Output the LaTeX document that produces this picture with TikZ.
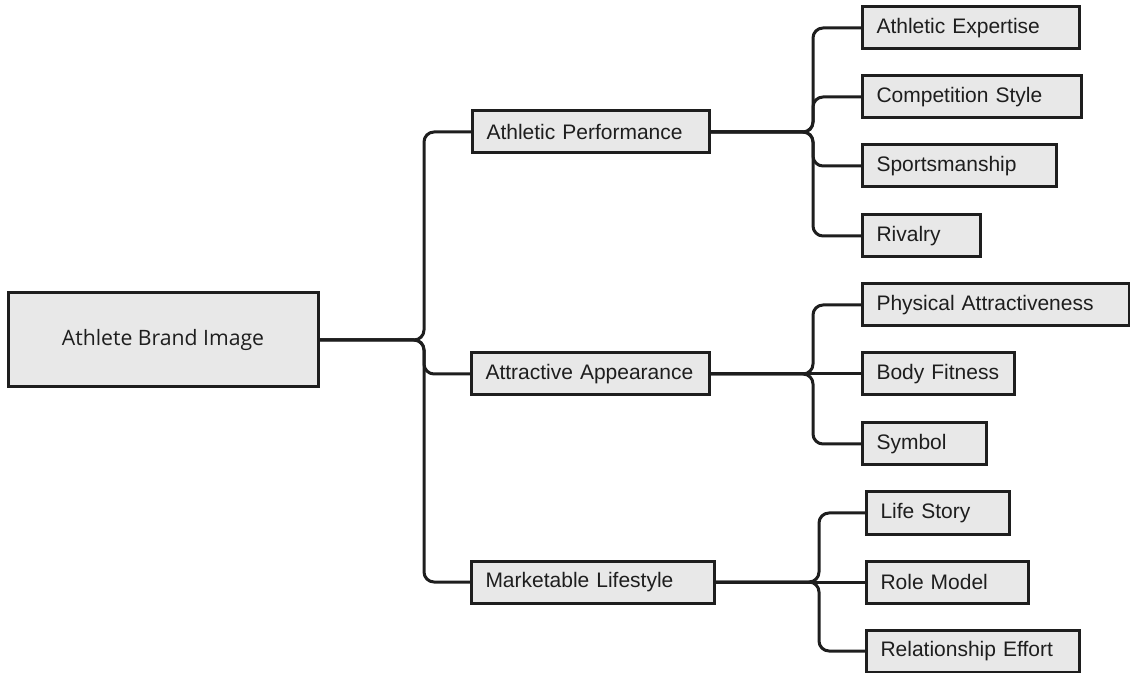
\documentclass[tikz,border=0pt]{standalone}
\usepackage{fontspec}
\setmainfont{Liberation Sans}
\newfontfamily\rootfont{Open Sans}
\usepackage{tikz}
\usetikzlibrary{positioning}

\definecolor{boxfill}{HTML}{E8E8E8}
\definecolor{inkline}{HTML}{1E1E1E}

\begin{document}
\begin{tikzpicture}[
    x=0.5pt, y=-0.5pt,
    every node/.style={font=\fontsize{10.5}{12}\selectfont, text=inkline},
    rootbox/.style={rectangle, draw=inkline, fill=boxfill, line width=1.5pt, minimum width=155pt, minimum height=47pt, align=center, font=\rootfont\fontsize{10.6}{12}\selectfont},
    box/.style={rectangle, draw=inkline, fill=boxfill, line width=1.5pt, anchor=west, minimum height=21pt, inner xsep=7pt, inner ysep=0pt, text width=#1, align=left},
    link/.style={draw=inkline, line width=1.5pt, rounded corners=5pt},
]
    \useasboundingbox (0,0) rectangle (1130,673);

    % --- root and first level ---
    \node[rootbox] (brand) at (163,340) {Athlete Brand Image};
    \node[box=104.5pt] (perf) at (471,132) {Athletic Performance};
    \node[box=105pt] (appear) at (470,374) {Attractive Appearance};
    \node[box=107.5pt] (life) at (470,582) {Marketable Lifestyle};

    % --- second level ---
    \node[box=94.5pt] (expert) at (861,28) {Athletic Expertise};
    \node[box=95.5pt] (compet) at (861,97) {Competition Style};
    \node[box=83pt] (sports) at (861,166) {Sportsmanship};
    \node[box=45pt] (rival) at (861,236) {Rivalry};

    \node[box=119.5pt] (phys) at (861,305) {Physical Attractiveness};
    \node[box=62pt] (fit) at (861,374) {Body Fitness};
    \node[box=48pt] (symb) at (861,444) {Symbol};

    \node[box=57.5pt] (story) at (865,513) {Life Story};
    \node[box=67pt] (model) at (865,582) {Role Model};
    \node[box=92.5pt] (effort) at (865,651) {Relationship Effort};

    % --- junctions ---
    \coordinate (jb) at (424,340);
    \coordinate (jp) at (813,132);
    \coordinate (ja) at (813,374);
    \coordinate (jl) at (819,582);

    % --- connectors ---
    \draw[link] (brand.east) -- (jb) |- (perf.west);
    \draw[link] (brand.east) -- (jb) |- (appear.west);
    \draw[link] (brand.east) -- (jb) |- (life.west);

    \draw[link] (perf.east) -- (jp) |- (expert.west);
    \draw[link] (perf.east) -- (jp) |- (compet.west);
    \draw[link] (perf.east) -- (jp) |- (sports.west);
    \draw[link] (perf.east) -- (jp) |- (rival.west);

    \draw[link] (appear.east) -- (ja) |- (phys.west);
    \draw[link] (appear.east) -- (fit.west);
    \draw[link] (appear.east) -- (ja) |- (symb.west);

    \draw[link] (life.east) -- (jl) |- (story.west);
    \draw[link] (life.east) -- (model.west);
    \draw[link] (life.east) -- (jl) |- (effort.west);

\end{tikzpicture}
\end{document}
